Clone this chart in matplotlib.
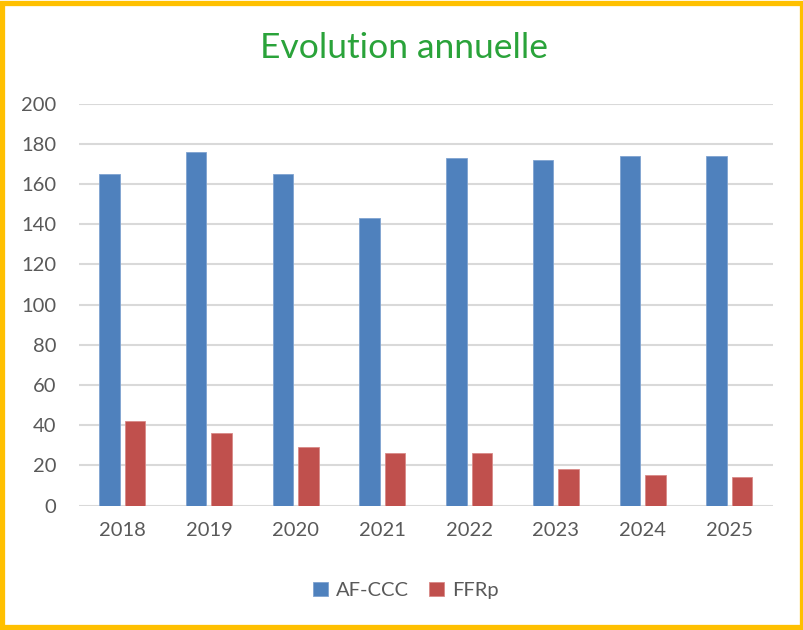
import matplotlib
matplotlib.use("Agg")
import matplotlib.pyplot as plt
from matplotlib.patches import Rectangle
import numpy as np

years = ["2018", "2019", "2020", "2021", "2022", "2023", "2024", "2025"]
af_ccc = [165, 176, 165, 143, 173, 172, 174, 174]
ffrp = [42, 36, 29, 26, 26, 18, 15, 14]
yticks = [0, 20, 40, 60, 80, 100, 120, 140, 160, 180, 200]

plt.rcParams['font.family'] = ['Lato', 'DejaVu Sans']

fig = plt.figure(figsize=(8.04, 6.3), dpi=100)
ax = fig.add_axes([0.098, 0.1976, 0.863, 0.6381])

x = np.arange(len(years))
w = 0.236
off = 0.147
ax.bar(x - off, af_ccc, w, color='#4F81BD', edgecolor='#7FA3D1', linewidth=0.6, label='AF-CCC', zorder=3)
ax.bar(x + off, ffrp, w, color='#C0504D', edgecolor='#D98A88', linewidth=0.6, label='FFRp', zorder=3)

ax.set_xlim(-0.5, len(years) - 0.5)
ax.set_ylim(0, 200)
ax.set_yticks(yticks)
ax.set_yticklabels([str(v) for v in yticks])
ax.set_xticks(x)
ax.set_xticklabels(years)
ax.grid(axis='y', color='#D9D9D9', linewidth=1.5, zorder=0)
ax.set_axisbelow(True)
for s in ax.spines.values():
    s.set_visible(False)
ax.tick_params(axis='both', length=0, labelsize=14.5, colors='#595959')
ax.tick_params(axis='y', pad=16)
ax.tick_params(axis='x', pad=12)

fig.text(0.502, 0.924, "Evolution annuelle", ha='center', va='center',
         fontsize=25.5, color='#2AA33A')

leg = fig.legend(loc='center', bbox_to_anchor=(0.505, 0.063), ncol=2, frameon=False,
                 fontsize=14.5, handlelength=0.75, handleheight=0.75, handletextpad=0.4,
                 columnspacing=1.0, labelcolor='#595959')

fig.patches.append(Rectangle((0.003, 0.0045), 0.994, 0.991, transform=fig.transFigure,
                             fill=False, edgecolor='#FFC000', linewidth=3.8))

fig.savefig('out.png', dpi=100)
